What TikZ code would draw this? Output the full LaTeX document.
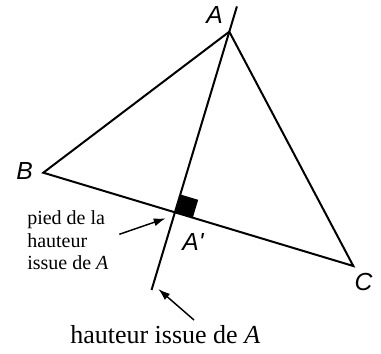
\documentclass[tikz,border=0pt]{standalone}
\usepackage{fontspec}
\setmainfont{Liberation Serif}
\newfontfamily\lsans{Liberation Sans}
\usetikzlibrary{calc,arrows.meta}
\begin{document}
\begin{tikzpicture}[x=0.75pt,y=-0.75pt,
  edge/.style={line width=1.5pt},
  vlabel/.style={font=\lsans\itshape\fontsize{18.5}{22}\selectfont, inner sep=0pt},
  note/.style={->, >={Latex[length=9pt,width=6pt]}, line width=1.1pt}]
\useasboundingbox (0,0) rectangle (381,353);
\coordinate (A) at (229.3,31.7);
\coordinate (B) at (43.3,172.7);
\coordinate (C) at (353.3,266);
\coordinate (H) at ($(B)!(A)!(C)$);
\coordinate (Top) at ($(A)!-0.14!(H)$);
\coordinate (Bot) at ($(A)!1.43!(H)$);
% right angle mark
\fill ($(H)!0pt!(C)$) -- ($(H)!14pt!(C)$) -- ($(H)!14pt!(C)!14pt!90:(C)$) -- ($(H)!14pt!(A)$) -- cycle;
\draw[edge, line join=miter] (A) -- (B) -- (C) -- cycle;
\draw[edge] (Top) -- (Bot);
\node[vlabel] (lA) at (214.5,15.5) {A};
\node[vlabel] (lB) at (24.5,171.5) {B};
\node[vlabel] (lC) at (363.5,282) {C};
\node[vlabel] (lH) at (193,242) {A'};
\node[font=\fontsize{15}{17}\selectfont, align=left, anchor=north west, inner sep=0pt] (pied) at (27,210.3) {pied de la\\hauteur\\issue de \textit{A}};
\node[font=\fontsize{19.5}{22}\selectfont, anchor=base west, inner sep=0pt] (haut) at (70,343) {hauteur issue de \textit{A}};
\coordinate (t1) at (119.3,234.3);
\coordinate (h1) at (165.7,218.3);
\coordinate (t2) at (194,320);
\coordinate (h2) at (158.3,289);
\draw[note] (t1) -- (h1);
\draw[note] (t2) -- (h2);
\end{tikzpicture}
\end{document}
